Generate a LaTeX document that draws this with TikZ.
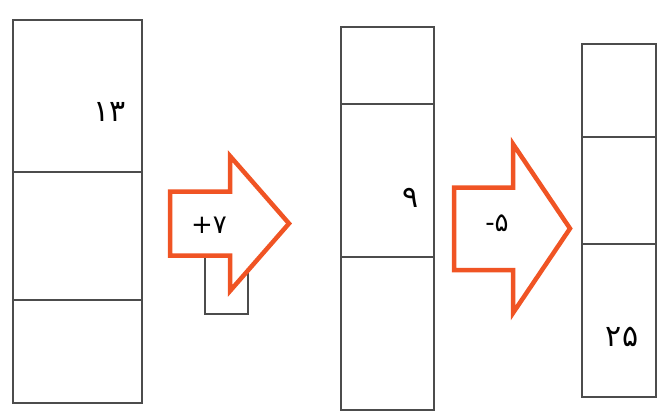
\documentclass[tikz,border=0pt]{standalone}
\usepackage{fontspec}
\usepackage{xcolor}
\newfontfamily\persianfont[Script=Arabic]{DejaVu Sans}
\definecolor{oporange}{RGB}{240,84,36}
\tikzset{
  cell/.style={draw=black!70,line width=1.3pt},
  oparrow/.style={draw=oporange,line width=4.5pt,fill=white,line join=miter},
  digit/.style={font=\persianfont\fontsize{30}{30}\selectfont,inner sep=0pt},
  oplabel/.style={font=\persianfont\fontsize{26}{26}\selectfont,inner sep=0pt}
}
\begin{document}
\begin{tikzpicture}[x=1pt,y=-1pt]
  \useasboundingbox (0,0) rectangle (666,415);
  % first column
  \draw[cell] (13,20) rectangle (142,403);
  \draw[cell] (13,172) -- (142,172);
  \draw[cell] (13,300) -- (142,300);
  \node[digit] (thirteen) at (110,112) {۱۳};
  % +7 step
  \draw[cell] (205,240) rectangle (248,314);
  \draw[oparrow] (170,191.5) -- (230,191.5) -- (230,156) -- (289,223.5)
    -- (230,291) -- (230,255.5) -- (170,255.5) -- cycle;
  \node[oplabel] (addseven) at (209,225) {\hbox{+}\hbox{۷}};
  % second column
  \draw[cell] (341,27) rectangle (434,410);
  \draw[cell] (341,104) -- (434,104);
  \draw[cell] (341,257) -- (434,257);
  \node[digit] (nine) at (411,198) {۹};
  % -5 step
  \draw[oparrow] (454,187.5) -- (513,187.5) -- (513,144) -- (570,228.5)
    -- (513,313) -- (513,270) -- (454,270) -- cycle;
  \node[oplabel] (subfive) at (497,223) {\hbox{-}\hbox{۵}};
  % third column
  \draw[cell] (582,44) rectangle (656,397);
  \draw[cell] (582,137) -- (656,137);
  \draw[cell] (582,244) -- (656,244);
  \node[digit] (twentyfive) at (622,337) {۲۵};
\end{tikzpicture}
\end{document}
